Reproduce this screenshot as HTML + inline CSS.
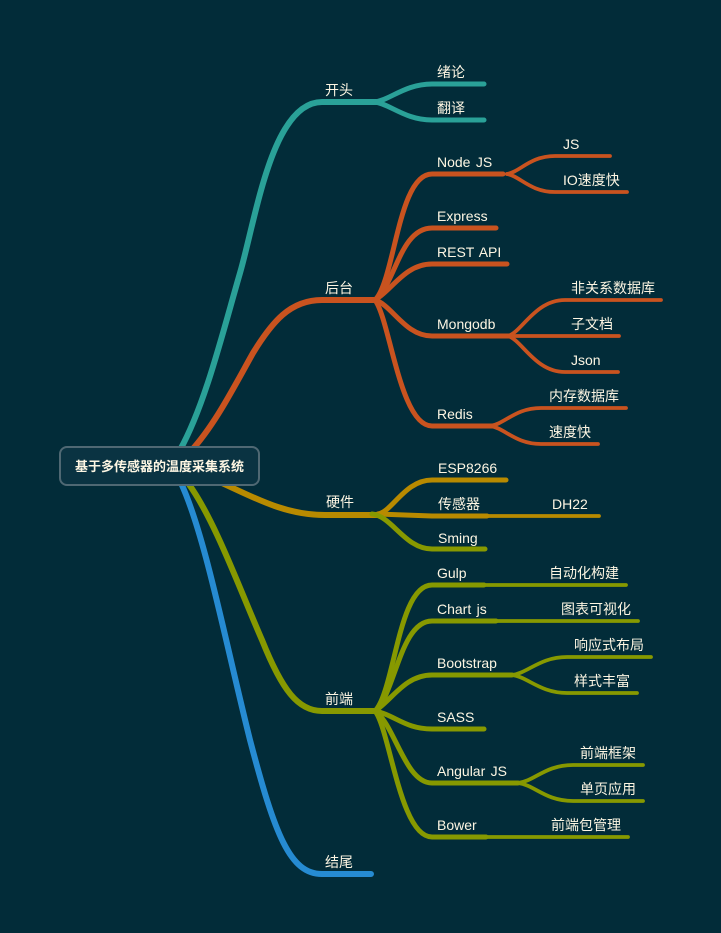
<!DOCTYPE html>
<html><head><meta charset="utf-8"><style>
html,body{margin:0;padding:0;background:#022c39}
svg{display:block}
text{font-family:"Liberation Sans","Noto Sans CJK SC",sans-serif;font-size:14px;fill:#fdf6e3;word-spacing:1.5px}
path{fill:none;stroke-linecap:round}
.t{stroke:#2aa198}.o{stroke:#c9531f}.g{stroke:#b88a00}.v{stroke:#879900}.b{stroke:#268bd2}
</style></head><body>
<svg width="721" height="933" viewBox="0 0 721 933" xmlns="http://www.w3.org/2000/svg">
<rect width="721" height="933" fill="#022c39"/>
<g stroke-width="3.8">
<path class="o" d="M507 174C520 172 530 156 555 156L610 156"/>
<path class="o" d="M507 174C520 176 530 192 555 192L627 192"/>
<path class="o" d="M508 336C522 332 535 300 565 300L661 300"/>
<path class="o" d="M508 336L619 336"/>
<path class="o" d="M508 336C522 340 535 372 565 372L618 372"/>
<path class="o" d="M490 426C505 424 515 408 541 408L626 408"/>
<path class="o" d="M490 426C505 428 515 444 541 444L598 444"/>
<path class="g" d="M487 516L599 516"/>
<path class="v" d="M484 585L626 585"/>
<path class="v" d="M496 621L638 621"/>
<path class="v" d="M512 675C528 673 540 657 567 657L651 657"/>
<path class="v" d="M512 675C528 677 540 693 567 693L637 693"/>
<path class="v" d="M518 783C535 781 545 765 573 765L643 765"/>
<path class="v" d="M518 783C535 785 545 801 573 801L643 801"/>
<path class="v" d="M486 837L628 837"/>
</g>
<g stroke-width="6">
<path class="t" d="M180 450C205 405 222 335 240 273C256 218 272 102 322 102L377 102"/>
<path class="o" d="M190 452C215 425 235 385 253 353C272 322 290 300 322 300L377 300"/>
<path class="b" d="M181 483C205 535 225 640 250 740C275 835 290 874 322 874L371 874"/>
<path class="v" d="M188 483C215 520 240 590 262 640C282 690 298 711 322 711L377 711"/>
<path class="g" d="M222 483C255 498 285 515 325 515L380 515"/>
</g>
<g stroke-width="5">
<path class="t" d="M375 102C390 100 405 84 432 84L484 84"/>
<path class="t" d="M375 102C390 104 405 120 432 120L484 120"/>
<path class="o" d="M375 300C395 280 398 174 432 174L503 174"/>
<path class="o" d="M375 300C395 285 400 228 432 228L496 228"/>
<path class="o" d="M375 300C392 290 405 264 432 264L507 264"/>
<path class="o" d="M375 300C392 305 405 336 432 336L510 336"/>
<path class="o" d="M375 300C390 320 400 426 432 426L492 426"/>
<path class="g" d="M378 514C392 512 405 480 432 480L506 480"/>
<path class="g" d="M378 514L432 516L487 516" style="stroke-linejoin:round"/>
<path class="v" d="M372 514C392 516 405 549 432 549L485 549"/>
<path class="v" d="M375 711C395 690 398 585 432 585L484 585"/>
<path class="v" d="M375 711C395 695 400 621 432 621L496 621"/>
<path class="v" d="M375 711C392 700 405 675 432 675L512 675"/>
<path class="v" d="M375 711C395 715 405 729 432 729L484 729"/>
<path class="v" d="M375 711C395 725 405 783 432 783L518 783"/>
<path class="v" d="M375 711C390 730 400 837 432 837L486 837"/>
</g>
<rect x="60" y="447" width="199" height="38" rx="7" fill="#0a3342" stroke="#4f6873" stroke-width="2"/>
<text x="75" y="471" style="font-size:13px;font-weight:bold">基于多传感器的温度采集系统</text>
<text x="325" y="95">开头</text>
<text x="325" y="293">后台</text>
<text x="326" y="507">硬件</text>
<text x="325" y="704">前端</text>
<text x="325" y="867">结尾</text>
<text x="437" y="77">绪论</text>
<text x="437" y="113">翻译</text>
<text x="437" y="167">Node JS</text>
<text x="437" y="221">Express</text>
<text x="437" y="257">REST API</text>
<text x="437" y="329">Mongodb</text>
<text x="437" y="419">Redis</text>
<text x="563" y="149">JS</text>
<text x="563" y="185">IO速度快</text>
<text x="571" y="293">非关系数据库</text>
<text x="571" y="329">子文档</text>
<text x="571" y="365">Json</text>
<text x="549" y="401">内存数据库</text>
<text x="549" y="437">速度快</text>
<text x="438" y="473">ESP8266</text>
<text x="438" y="509">传感器</text>
<text x="552" y="509">DH22</text>
<text x="438" y="543">Sming</text>
<text x="437" y="578">Gulp</text>
<text x="549" y="578">自动化构建</text>
<text x="437" y="614">Chart js</text>
<text x="561" y="614">图表可视化</text>
<text x="437" y="668">Bootstrap</text>
<text x="574" y="650">响应式布局</text>
<text x="574" y="686">样式丰富</text>
<text x="437" y="722">SASS</text>
<text x="437" y="776">Angular JS</text>
<text x="580" y="758">前端框架</text>
<text x="580" y="794">单页应用</text>
<text x="437" y="830">Bower</text>
<text x="551" y="830">前端包管理</text>
</svg>
</body></html>
